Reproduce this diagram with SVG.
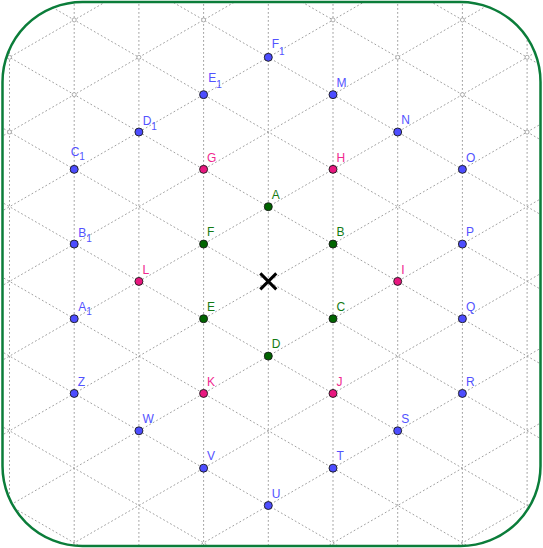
<svg xmlns="http://www.w3.org/2000/svg" width="543" height="548" viewBox="0 0 543 548">
<style>
.grid{stroke:#a0a0a0;stroke-width:1;stroke-dasharray:1.8 2.2;fill:none}
.vtx{fill:#fff;stroke:#9a9a9a;stroke-width:0.8}
.pt{stroke:#1a1a1a;stroke-width:0.9}
.blue .pt{fill:#4d4dff}
.green .pt{fill:#006400}
.pink .pt{fill:#e8177f}
text{font-family:"Liberation Sans",Arial,sans-serif;font-size:12px}
.blue text{fill:#5252ff}
.green text{fill:#137a13}
.pink text{fill:#f0288f}
.sub{font-size:10px}
</style>
<defs>
<clipPath id="frameClip"><rect x="2.5" y="2" width="538" height="544" rx="80" ry="80"/></clipPath>
</defs>
<rect width="543" height="548" fill="#fff"/>
<g id="connectors" clip-path="url(#frameClip)">
<path class="grid" d="M9.5 0V548M74.2 0V548M138.9 0V548M203.6 0V548M268.3 0V548M333 0V548M397.7 0V548M462.4 0V548M527.1 0V548"/>
<path class="grid" d="M-10 -252.78L553 72.27M-10 -178.08L553 146.97M-10 -103.38L553 221.67M-10 -28.68L553 296.37M-10 46.02L553 371.07M-10 120.72L553 445.77M-10 195.42L553 520.47M-10 270.12L553 595.17M-10 344.82L553 669.87M-10 419.52L553 744.57M-10 494.22L553 819.27"/>
<path class="grid" d="M-10 68.58L553 -256.47M-10 143.28L553 -181.77M-10 217.98L553 -107.07M-10 292.68L553 -32.37M-10 367.38L553 42.33M-10 442.08L553 117.03M-10 516.78L553 191.73M-10 591.48L553 266.43M-10 666.18L553 341.13M-10 740.88L553 415.83M-10 815.58L553 490.53"/>
<g id="grid-vertices">
<circle class="vtx" cx="74.2" cy="19.95" r="2"/>
<circle class="vtx" cx="203.6" cy="19.95" r="2"/>
<circle class="vtx" cx="333" cy="19.95" r="2"/>
<circle class="vtx" cx="462.4" cy="19.95" r="2"/>
<circle class="vtx" cx="9.5" cy="57.3" r="2"/>
<circle class="vtx" cx="138.9" cy="57.3" r="2"/>
<circle class="vtx" cx="397.7" cy="57.3" r="2"/>
<circle class="vtx" cx="527.1" cy="57.3" r="2"/>
<circle class="vtx" cx="74.2" cy="94.65" r="2"/>
<circle class="vtx" cx="462.4" cy="94.65" r="2"/>
<circle class="vtx" cx="9.5" cy="132" r="2"/>
<circle class="vtx" cx="527.1" cy="132" r="2"/>
</g>
</g>
<rect id="frame" x="2.5" y="2" width="538" height="544" rx="80" ry="80" fill="none" stroke="#0b7d3a" stroke-width="2.5"/>
<g id="center-mark" stroke="#000" stroke-width="3" stroke-linecap="butt">
<path d="M260.3 273.4L276.3 289.4M276.3 273.4L260.3 289.4"/>
</g>
<g class="green">
<g id="A"><circle class="pt" cx="268.3" cy="206.7" r="4"/><text x="271.8" y="198.9">A</text></g>
<g id="B"><circle class="pt" cx="333" cy="244.05" r="4"/><text x="336.5" y="236.3">B</text></g>
<g id="C"><circle class="pt" cx="333" cy="318.75" r="4"/><text x="336.5" y="311">C</text></g>
<g id="D"><circle class="pt" cx="268.3" cy="356.1" r="4"/><text x="271.8" y="348.3">D</text></g>
<g id="E"><circle class="pt" cx="203.6" cy="318.75" r="4"/><text x="207.1" y="311">E</text></g>
<g id="F"><circle class="pt" cx="203.6" cy="244.05" r="4"/><text x="207.1" y="236.3">F</text></g>
</g>
<g class="pink">
<g id="G"><circle class="pt" cx="203.6" cy="169.35" r="4"/><text x="207.1" y="161.6">G</text></g>
<g id="H"><circle class="pt" cx="333" cy="169.35" r="4"/><text x="336.5" y="161.6">H</text></g>
<g id="I"><circle class="pt" cx="397.7" cy="281.4" r="4"/><text x="401.2" y="273.6">I</text></g>
<g id="J"><circle class="pt" cx="333" cy="393.45" r="4"/><text x="336.5" y="385.7">J</text></g>
<g id="K"><circle class="pt" cx="203.6" cy="393.45" r="4"/><text x="207.1" y="385.7">K</text></g>
<g id="L"><circle class="pt" cx="138.9" cy="281.4" r="4"/><text x="142.4" y="273.6">L</text></g>
</g>
<g class="blue">
<g id="F1"><circle class="pt" cx="268.3" cy="57.3" r="4"/><text x="271.7" y="48.3">F<tspan class="sub" dy="6.7">1</tspan></text></g>
<g id="M"><circle class="pt" cx="333" cy="94.65" r="4"/><text x="336.5" y="86.9">M</text></g>
<g id="N"><circle class="pt" cx="397.7" cy="132" r="4"/><text x="401.2" y="124.2">N</text></g>
<g id="O"><circle class="pt" cx="462.4" cy="169.35" r="4"/><text x="465.9" y="161.6">O</text></g>
<g id="P"><circle class="pt" cx="462.4" cy="244.05" r="4"/><text x="465.9" y="236.3">P</text></g>
<g id="Q"><circle class="pt" cx="462.4" cy="318.75" r="4"/><text x="465.9" y="311">Q</text></g>
<g id="R"><circle class="pt" cx="462.4" cy="393.45" r="4"/><text x="465.9" y="385.7">R</text></g>
<g id="S"><circle class="pt" cx="397.7" cy="430.8" r="4"/><text x="401.2" y="423">S</text></g>
<g id="T"><circle class="pt" cx="333" cy="468.15" r="4"/><text x="336.5" y="460.4">T</text></g>
<g id="U"><circle class="pt" cx="268.3" cy="505.5" r="4"/><text x="271.8" y="497.8">U</text></g>
<g id="V"><circle class="pt" cx="203.6" cy="468.15" r="4"/><text x="207.1" y="460.4">V</text></g>
<g id="W"><circle class="pt" cx="138.9" cy="430.8" r="4"/><text x="142.4" y="423">W</text></g>
<g id="Z"><circle class="pt" cx="74.2" cy="393.45" r="4"/><text x="77.7" y="385.7">Z</text></g>
<g id="A1"><circle class="pt" cx="74.2" cy="318.75" r="4"/><text x="78.3" y="310.7">A<tspan class="sub" dy="4.3">1</tspan></text></g>
<g id="B1"><circle class="pt" cx="74.2" cy="244.05" r="4"/><text x="78.3" y="236.7">B<tspan class="sub" dy="5">1</tspan></text></g>
<g id="C1"><circle class="pt" cx="74.2" cy="169.35" r="4"/><text x="70.7" y="156">C<tspan class="sub" dy="4">1</tspan></text></g>
<g id="D1"><circle class="pt" cx="138.9" cy="132" r="4"/><text x="142.7" y="125">D<tspan class="sub" dy="4.5">1</tspan></text></g>
<g id="E1"><circle class="pt" cx="203.6" cy="94.65" r="4"/><text x="208.3" y="82">E<tspan class="sub" dy="6">1</tspan></text></g>
</g>
</svg>
